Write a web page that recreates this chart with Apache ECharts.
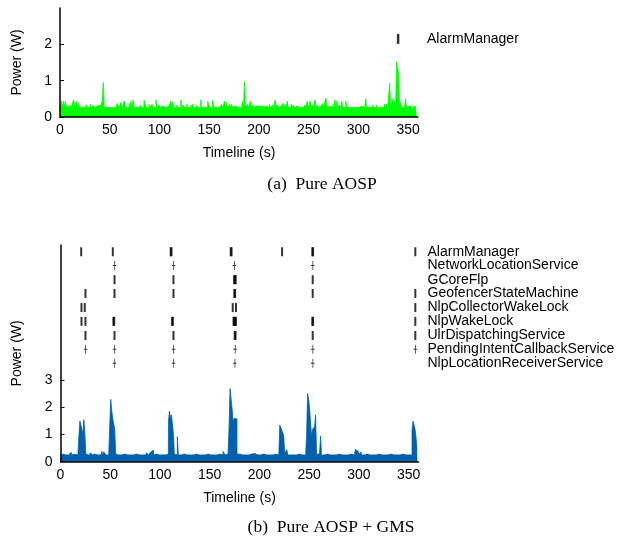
<!DOCTYPE html>
<html><head><meta charset="utf-8">
<script src="https://cdn.jsdelivr.net/npm/echarts@6/dist/echarts.min.js"></script>
<style>html,body{margin:0;padding:0;background:#fff}#c{width:620px;height:546px}</style>
</head><body><div id="c"></div>
<script>
// ---------- data ----------
const xTicks = [0, 50, 100, 150, 200, 250, 300, 350];
const powerTicksA = [0, 1, 2];
const powerTicksB = [0, 1, 2, 3];
const timeStep = 1; // seconds per sample

// (a) Pure AOSP power, one value per second, t = 0..359
const powerA = [
0.26,0.27,0.44,0.26,0.44,0.26,0.44,0.26,0.33,0.26,0.27,0.33,0.26,0.26,0.47,0.5,0.26,0.43,0.27,0.38,
0.26,0.26,0.27,0.3,0.26,0.26,0.26,0.33,0.26,0.26,0.27,0.35,0.26,0.26,0.33,0.26,0.26,0.3,0.26,0.26,
0.33,0.26,0.26,0.44,0.95,0.26,0.27,0.26,0.27,0.26,0.26,0.3,0.26,0.26,0.26,0.3,0.26,0.26,0.38,0.33,
0.26,0.26,0.4,0.26,0.26,0.44,0.41,0.26,0.26,0.27,0.38,0.26,0.44,0.26,0.47,0.26,0.26,0.27,0.3,0.26,
0.26,0.33,0.26,0.26,0.27,0.47,0.43,0.26,0.26,0.26,0.35,0.26,0.26,0.35,0.26,0.26,0.27,0.47,0.26,0.26,
0.33,0.26,0.26,0.3,0.26,0.3,0.26,0.26,0.27,0.3,0.26,0.26,0.44,0.26,0.42,0.26,0.26,0.27,0.33,0.26,
0.26,0.26,0.47,0.26,0.33,0.26,0.26,0.27,0.35,0.26,0.26,0.26,0.33,0.26,0.35,0.26,0.26,0.27,0.33,0.26,
0.26,0.26,0.47,0.26,0.26,0.27,0.3,0.26,0.26,0.43,0.38,0.26,0.26,0.26,0.47,0.26,0.26,0.27,0.26,0.26,
0.26,0.26,0.27,0.35,0.26,0.26,0.44,0.26,0.4,0.26,0.26,0.35,0.26,0.35,0.26,0.26,0.3,0.26,0.27,0.26,
0.26,0.26,0.26,0.27,0.44,0.26,0.97,0.33,0.26,0.35,0.26,0.26,0.44,0.26,0.33,0.26,0.26,0.3,0.26,0.26,
0.3,0.26,0.26,0.27,0.33,0.26,0.26,0.3,0.26,0.35,0.26,0.35,0.26,0.26,0.33,0.26,0.26,0.47,0.26,0.33,
0.26,0.26,0.3,0.26,0.26,0.38,0.26,0.35,0.26,0.44,0.26,0.26,0.27,0.35,0.26,0.33,0.26,0.26,0.3,0.26,
0.26,0.26,0.3,0.26,0.26,0.3,0.26,0.33,0.26,0.44,0.26,0.26,0.44,0.26,0.33,0.26,0.26,0.47,0.26,0.33,
0.26,0.26,0.3,0.26,0.26,0.38,0.26,0.44,0.52,0.26,0.26,0.3,0.26,0.3,0.26,0.35,0.26,0.47,0.26,0.44,
0.26,0.26,0.33,0.26,0.43,0.26,0.26,0.27,0.44,0.26,0.3,0.26,0.26,0.27,0.26,0.26,0.3,0.26,0.26,0.3,
0.26,0.26,0.27,0.3,0.26,0.33,0.26,0.26,0.5,0.26,0.26,0.27,0.3,0.26,0.26,0.33,0.26,0.26,0.27,0.33,
0.26,0.26,0.26,0.3,0.26,0.26,0.27,0.36,0.26,0.36,0.26,0.26,0.93,0.26,0.26,0.5,0.26,0.47,0.3,1.52,
1.35,1.2,0.3,0.4,0.26,0.26,0.27,0.26,0.5,0.26,0.26,0.3,0.26,0.26,0.27,0.26,0.26,0.3,0.26,0.26
];

// (b) Pure AOSP + GMS power, one value per second, t = 0..359
const powerB = [
0.25,0.25,0.28,0.25,0.25,0.25,0.28,0.25,0.25,0.25,0.28,0.35,0.25,0.25,0.28,0.25,0.25,0.25,0.28,0.95,
1.5,1.48,1.2,1.0,1.55,1.05,0.28,0.25,0.25,0.25,0.28,0.33,0.25,0.25,0.28,0.25,0.32,0.25,0.28,0.25,
0.25,0.28,0.38,0.25,0.37,0.33,0.25,0.28,0.25,0.25,1.3,2.3,1.9,1.6,1.55,1.2,0.28,0.25,0.25,0.25,
0.28,0.25,0.25,0.25,0.28,0.25,0.25,0.25,0.28,0.25,0.25,0.25,0.28,0.25,0.25,0.25,0.28,0.25,0.25,0.25,
0.28,0.25,0.25,0.25,0.28,0.25,0.25,0.33,0.28,0.25,0.25,0.35,0.28,0.42,0.25,0.25,0.28,0.33,0.25,0.25,
0.28,0.25,0.25,0.25,0.28,0.25,0.25,0.25,0.28,1.42,1.87,1.6,1.73,1.77,1.07,0.28,0.25,0.25,0.92,0.25,
0.28,0.25,0.25,0.25,0.28,0.25,0.25,0.25,0.28,0.25,0.25,0.25,0.28,0.25,0.25,0.25,0.28,0.25,0.35,0.25,
0.28,0.25,0.25,0.25,0.28,0.25,0.25,0.25,0.28,0.25,0.25,0.25,0.28,0.25,0.25,0.25,0.28,0.25,0.25,0.25,
0.28,0.25,0.25,0.25,0.38,0.38,0.25,0.25,0.28,0.25,1.27,2.7,2.65,1.97,1.5,1.6,1.55,1.58,0.28,0.25,
0.28,0.25,0.25,0.25,0.28,0.3,0.25,0.25,0.28,0.25,0.25,0.25,0.28,0.25,0.25,0.3,0.28,0.25,0.25,0.25,
0.28,0.25,0.25,0.25,0.28,0.25,0.25,0.25,0.28,0.25,0.25,0.25,0.28,0.25,0.25,0.25,0.28,0.25,0.25,0.25,
0.28,1.35,1.3,1.17,1.12,0.95,0.28,0.25,0.45,0.25,0.25,0.25,0.28,0.25,0.25,0.25,0.28,0.25,0.25,0.25,
0.28,0.25,0.25,0.25,0.28,0.25,0.25,0.25,1.0,2.52,2.3,1.97,1.4,0.95,1.2,1.25,1.3,1.72,0.28,0.25,
0.28,0.25,0.95,0.25,0.28,0.25,0.25,0.25,0.28,0.25,0.25,0.25,0.28,0.25,0.25,0.25,0.28,0.25,0.25,0.25,
0.28,0.25,0.25,0.25,0.28,0.25,0.25,0.25,0.28,0.25,0.25,0.25,0.28,0.25,0.25,0.25,0.28,0.45,0.45,0.38,
0.28,0.25,0.35,0.25,0.28,0.25,0.25,0.25,0.28,0.25,0.25,0.25,0.28,0.25,0.25,0.25,0.28,0.25,0.25,0.25,
0.28,0.25,0.25,0.25,0.28,0.25,0.25,0.25,0.28,0.25,0.25,0.25,0.28,0.35,0.33,0.25,0.28,0.25,0.25,0.25,
0.28,0.25,0.25,0.25,0.28,0.25,0.25,0.25,0.28,0.25,0.25,0.25,0.28,0.25,1.15,1.5,1.53,1.2,0.9,0.45
];

// event rows (label, row position on the power axis, event times in s, marker style)
const eventNamesA = ['AlarmManager'];
const eventRowsA = [2.15];
const eventTimesA = [[340]];

const eventNamesB = ['AlarmManager','NetworkLocationService','GCoreFlp','GeofencerStateMachine',
  'NlpCollectorWakeLock','NlpWakeLock','UlrDispatchingService','PendingIntentCallbackService','NlpLocationReceiverService'];
const eventRowsB = [7.75, 7.24, 6.72, 6.21, 5.69, 5.18, 4.66, 4.15, 3.63];
const eventStyleB = ['bar','tick','bar','bar','bar','bar','bar','tick','tick'];
const eventTimesB = [
  [20.8, 52.6, 110.8, 111.6, 171.2, 172, 222.8, 253.2, 254, 356.8],
  [54.3, 113.6, 174.9, 253.6],
  [54.3, 113.6, 174.6, 175.4, 176.2, 253.6],
  [25.1, 54.3, 113.6, 174.8, 175.6, 253.6, 356.8],
  [21.1, 24.4, 173.2, 176.5, 356.8],
  [21.1, 25.1, 53.2, 54, 112.2, 113, 174, 174.8, 175.6, 176.4, 253.2, 254, 356.8],
  [25.1, 54.3, 113.6, 175.2, 176, 253.6, 356.8],
  [25.1, 54.3, 113.6, 175.5, 253.6, 356.8],
  [54.3, 113.6, 175.2, 253.6]
];

// ---------- chart ----------
const FONT = "'Liberation Sans', Arial, sans-serif";
const txt = {color: '#000', fontFamily: FONT, fontSize: 14};

function pts(vals) { return vals.map((v, i) => [i * timeStep, v]); }
function evPts(timesList, rows, filterFn) {
  const out = [];
  timesList.forEach((ts, r) => { if (!filterFn || filterFn(r)) ts.forEach(t => out.push([t, rows[r]])); });
  return out;
}
function nameFor(names, rows) {
  return v => { let best = 0; rows.forEach((r, i) => { if (Math.abs(r - v) < Math.abs(rows[best] - v)) best = i; }); return names[best]; };
}

const tickPath = 'path://M2,0H3V4H4.5V5H3V9H2V5H0V4H2Z';

const chart = echarts.init(document.getElementById('c'), null, {renderer: 'canvas'});
chart.setOption({
  animation: false,
  backgroundColor: '#fff',
  grid: [
    {left: 60, width: 358, top: 8, height: 109, outerBoundsMode: 'none', containLabel: false},
    {left: 60.5, width: 358, top: 245, height: 216.7, outerBoundsMode: 'none', containLabel: false}
  ],
  xAxis: [0, 1].map(g => ({
    gridIndex: g, type: 'value', min: 0, max: 360, interval: 50, z: 10,
    name: 'Timeline (s)', nameLocation: 'middle', nameGap: 29, nameTextStyle: txt,
    axisLine: {show: true, lineStyle: {color: '#000', width: 1.5}},
    axisTick: {show: false},
    axisLabel: Object.assign({margin: 6, customValues: xTicks}, txt),
    splitLine: {show: false}
  })),
  yAxis: [
    {gridIndex: 0, type: 'value', min: 0, max: 3, interval: 1, z: 10,
     name: 'Power (W)', nameLocation: 'middle', nameGap: 36, nameTextStyle: txt,
     axisLine: {show: true, lineStyle: {color: '#000', width: 1.5}},
     axisTick: {show: true, inside: true, length: 4, customValues: powerTicksA, lineStyle: {color: '#000'}},
     axisLabel: Object.assign({margin: 8, customValues: powerTicksA}, txt),
     splitLine: {show: false}},
    {gridIndex: 0, type: 'value', min: 0, max: 3, position: 'right',
     axisLine: {show: false}, axisTick: {show: false}, splitLine: {show: false},
     axisLabel: Object.assign({margin: 9, hideOverlap: false, customValues: eventRowsA, formatter: nameFor(eventNamesA, eventRowsA)}, txt)},
    {gridIndex: 1, type: 'value', min: 0, max: 8, interval: 1, z: 10,
     name: 'Power (W)', nameLocation: 'middle', nameGap: 36, nameTextStyle: txt,
     axisLine: {show: true, lineStyle: {color: '#000', width: 1.5}},
     axisTick: {show: true, inside: true, length: 4, customValues: powerTicksB, lineStyle: {color: '#000'}},
     axisLabel: Object.assign({margin: 8, customValues: powerTicksB}, txt),
     splitLine: {show: false}},
    {gridIndex: 1, type: 'value', min: 0, max: 8, position: 'right',
     axisLine: {show: false}, axisTick: {show: false}, splitLine: {show: false},
     axisLabel: Object.assign({margin: 9, hideOverlap: false, customValues: eventRowsB, formatter: nameFor(eventNamesB, eventRowsB)}, txt)}
  ],
  series: [
    {type: 'line', xAxisIndex: 0, yAxisIndex: 0, data: pts(powerA), step: 'middle', showSymbol: false,
     lineStyle: {color: '#00ff00', width: 0.8}, areaStyle: {color: '#00ff00', opacity: 1}, z: 2},
    {type: 'scatter', xAxisIndex: 0, yAxisIndex: 0, data: evPts(eventTimesA, eventRowsA),
     symbol: 'rect', symbolSize: [2.5, 10], itemStyle: {color: '#000'}, z: 5},
    {type: 'line', xAxisIndex: 1, yAxisIndex: 2, data: pts(powerB), step: 'middle', showSymbol: false,
     lineStyle: {color: '#0060ad', width: 0.8}, areaStyle: {color: '#0060ad', opacity: 1}, z: 2},
    {type: 'scatter', xAxisIndex: 1, yAxisIndex: 2, data: evPts(eventTimesB, eventRowsB, r => eventStyleB[r] === 'bar'),
     symbol: 'rect', symbolSize: [2, 9], itemStyle: {color: '#000'}, z: 5},
    {type: 'scatter', xAxisIndex: 1, yAxisIndex: 2, data: evPts(eventTimesB, eventRowsB, r => eventStyleB[r] === 'tick'),
     symbol: tickPath, symbolSize: [3.5, 9], itemStyle: {color: '#000'}, z: 5}
  ],
  graphic: [
    {type: 'text', x: 322, y: 184, style: {text: '(a)  Pure AOSP', fill: '#000',
      font: "17.5px 'Liberation Serif', 'DejaVu Serif', serif", textAlign: 'center', textVerticalAlign: 'middle'}},
    {type: 'text', x: 331, y: 527, style: {text: '(b)  Pure AOSP + GMS', fill: '#000',
      font: "17.5px 'Liberation Serif', 'DejaVu Serif', serif", textAlign: 'center', textVerticalAlign: 'middle'}}
  ]
});
</script>
</body></html>
